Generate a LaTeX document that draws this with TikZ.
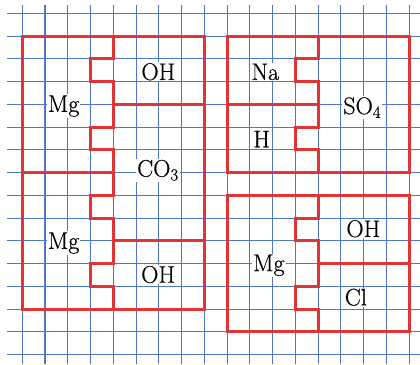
\documentclass[tikz,border=0pt]{standalone}
\usepackage{fontspec}
\newfontfamily\lblfont{Latin Modern Roman}[FakeBold=0.5]
\begin{document}
\begin{tikzpicture}[x=22.75pt,y=-22.75pt,
  gridline/.style={draw={rgb,255:red,80;green,118;blue,200},line width=1.1pt},
  redline/.style={draw={rgb,255:red,226;green,52;blue,52},line width=3pt,line join=miter},
  lbl/.style={fill=white,inner sep=1pt,anchor=base,font=\lblfont\fontsize{24}{28}\selectfont}]
\useasboundingbox (-0.98,-0.585) rectangle (17.48,15.415);
% grid
\foreach \c in {0,...,17} \draw[gridline] (\c,-0.365) -- (\c,15.415);
\foreach \r in {0,...,15} \draw[gridline] (-0.686,\r) -- (17.48,\r);
% left block
\draw[redline] (0,1) rectangle (8,13);
\draw[redline] (4,1) -- (4,2) -- (3,2) -- (3,3) -- (4,3) -- (4,5) -- (3,5) -- (3,6) -- (4,6) -- (4,8) -- (3,8) -- (3,9) -- (4,9) -- (4,11) -- (3,11) -- (3,12) -- (4,12) -- (4,13);
\draw[redline] (4,4) -- (8,4);
\draw[redline] (0,7) -- (4,7);
\draw[redline] (4,10) -- (8,10);
% right top block
\draw[redline] (9,1) rectangle (17,7);
\draw[redline] (13,1) -- (13,2) -- (12,2) -- (12,3) -- (13,3) -- (13,5) -- (12,5) -- (12,6) -- (13,6) -- (13,7);
\draw[redline] (9,4) -- (13,4);
% right bottom block
\draw[redline] (9,8) rectangle (17,14);
\draw[redline] (13,8) -- (13,9) -- (12,9) -- (12,10) -- (13,10) -- (13,12) -- (12,12) -- (12,13) -- (13,13) -- (13,14);
\draw[redline] (13,11) -- (17,11);
% labels
\node[lbl] (oh1) at (5.98,2.93) {OH};
\node[lbl] (mg1) at (1.82,4.33) {Mg};
\node[lbl] (co3) at (5.96,7.18) {CO\textsubscript{3}};
\node[lbl] (mg2) at (1.82,10.35) {Mg};
\node[lbl] (oh2) at (5.97,11.84) {OH};
\node[lbl] (na) at (10.68,2.93) {Na};
\node[lbl] (h) at (10.52,5.89) {H};
\node[lbl] (so4) at (14.94,4.43) {SO\textsubscript{4}};
\node[lbl] (oh3) at (14.99,9.83) {OH};
\node[lbl] (mg3) at (10.84,11.33) {Mg};
\node[lbl] (cl) at (14.66,12.84) {Cl};
\end{tikzpicture}
\end{document}
